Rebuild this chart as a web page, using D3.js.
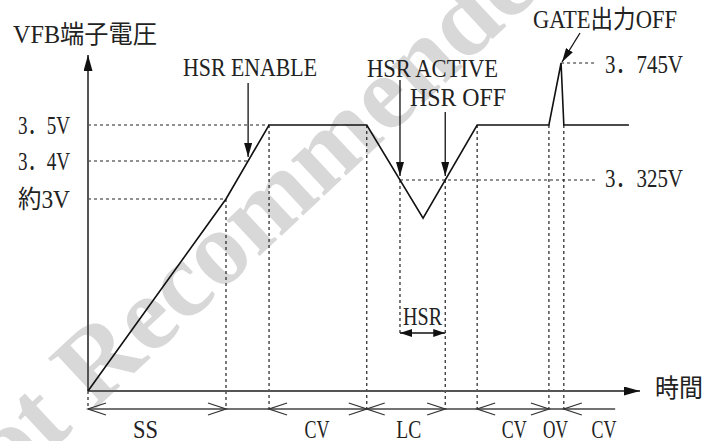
<!DOCTYPE html>
<html>
<head>
<meta charset="utf-8">
<script src="https://cdn.jsdelivr.net/npm/d3@7/dist/d3.min.js"></script>
<style>
  body { margin: 0; background: #fff; }
  text { font-family: "Liberation Serif", "Noto Sans CJK JP", serif; font-size: 25px; fill: #222; }
</style>
</head>
<body>
<div id="chart"></div>
<script>
// voltage levels marked on the vertical axis
const levelValues = [3.0, 3.4, 3.5];
const levelLabels = ["約3V", "3．4V", "3．5V"];
const hsrLevel = 3.325;
const gateLevel = 3.745;

// VFB waveform (time in arbitrary units, volts)
const waveT = [0, 25, 32.8, 50.5, 60.7, 70.5, 83.5, 85.7, 86.2, 98];
const waveV = [0, 3.0, 3.5, 3.5, 2.7, 3.5, 3.5, 3.745, 3.5, 3.5];

// operating phases along the time axis
const phaseNames = ["SS", "CV", "LC", "CV", "OV", "CV"];
const phaseStart = [0, 32.8, 50.5, 70.5, 83.5, 86.2];
const phaseEnd = [25, 50.5, 64.7, 83.5, 86.2, 95.5];
const phaseLabelT = [10.4, 41.5, 58.1, 77.2, 84.7, 93.5];
const phaseOpenEnd = [false, false, false, false, true, true];
const phaseOpenStart = [false, false, false, false, true, false];

const width = 707, height = 441;
const svg = d3.select("#chart").append("svg").attr("width", width).attr("height", height);

const x = d3.scaleLinear().domain([0, 100]).range([88, 640]);
// schematic (not to scale) voltage axis
const y = d3.scaleLinear().domain([0, 3, 3.325, 3.4, 3.5, 3.745]).range([391, 199, 180, 161, 125, 63]);
const yTop = 55, rowY = 409;

const defs = svg.append("defs");
function marker(id, w, h, color) {
  defs.append("marker").attr("id", id).attr("viewBox", `0 0 ${w} ${h}`)
    .attr("refX", w).attr("refY", h / 2).attr("markerWidth", w).attr("markerHeight", h)
    .attr("markerUnits", "userSpaceOnUse").attr("orient", "auto-start-reverse")
    .append("path").attr("d", `M0,0L${w},${h / 2}L0,${h}Z`).attr("fill", color);
}
marker("axisHead", 16, 9, "#111");
marker("head", 14, 8, "#111");
marker("smallHead", 12, 8, "#111");

// watermark
svg.append("text").attr("transform", "translate(-46,541) rotate(-43)")
  .style("font-size", "106px").style("font-weight", "bold").style("fill", "#d8d8d8")
  .text("Not Recommended for New Design");

// where the waveform crosses a level (pixel x), looking from time t0 on
function crossings(v, t0) {
  const py = y(v), out = [];
  for (let i = 0; i < waveT.length - 1; i++) {
    if (waveT[i] < t0) continue;
    const y0 = y(waveV[i]), y1 = y(waveV[i + 1]);
    if ((y0 - py) * (y1 - py) < 0) {
      out.push(x(waveT[i]) + (py - y0) / (y1 - y0) * (x(waveT[i + 1]) - x(waveT[i])));
    }
  }
  return out;
}
const enableX = crossings(3.4, 0)[0];
const [hsrOnX, hsrOffX] = crossings(hsrLevel, phaseStart[2]);
const peakI = waveV.indexOf(gateLevel);

const dash = { stroke: "#222", "stroke-width": 1.2, "stroke-dasharray": "3,3" };
function line(g, x1, y1, x2, y2, style) {
  const l = g.append("line").attr("x1", x1).attr("y1", y1).attr("x2", x2).attr("y2", y2);
  Object.entries(style).forEach(([k, v]) => l.attr(k, v));
  return l;
}

const guides = svg.append("g");
// horizontal guides from the axis to the waveform
const levelX = [x(waveT[1]), enableX, x(waveT[2])];
levelValues.forEach((v, i) => line(guides, x(0), y(v), levelX[i], y(v), dash));
line(guides, hsrOnX, y(hsrLevel), 595, y(hsrLevel), dash);
line(guides, x(waveT[peakI]), y(gateLevel), 595, y(gateLevel), dash);

// vertical guides at phase changes
[0, 1, 2, 3, 5, 6, 8].forEach(i => line(guides, x(waveT[i]), y(waveV[i]), x(waveT[i]), rowY, dash));
line(guides, hsrOnX, y(hsrLevel), hsrOnX, 333, dash);
line(guides, hsrOffX, y(hsrLevel), hsrOffX, rowY, dash);

// axes
const axisStyle = { stroke: "#555", "stroke-width": 2 };
line(svg, x(0), y(0), x(0), yTop, axisStyle).attr("marker-end", "url(#axisHead)");
line(svg, x(0), y(0), x(100), y(0), axisStyle).attr("marker-end", "url(#axisHead)");

const yAxis = svg.append("g").attr("transform", `translate(${x(0)},0)`)
  .call(d3.axisLeft(y).tickValues(levelValues).tickFormat((d, i) => levelLabels[i]).tickSize(0).tickPadding(18));
yAxis.select(".domain").remove();
yAxis.selectAll("text").attr("font-family", null).attr("font-size", null).attr("dy", "0.33em")
  .attr("textLength", 52).attr("lengthAdjust", "spacingAndGlyphs");

// waveform
svg.append("path").datum(waveT.map((t, i) => [t, waveV[i]]))
  .attr("d", d3.line().x(d => x(d[0])).y(d => y(d[1])))
  .attr("fill", "none").attr("stroke", "#111").attr("stroke-width", 1.6);

// texts
function label(txt, tx, ty, w, anchor) {
  const t = svg.append("text").attr("x", tx).attr("y", ty).attr("text-anchor", anchor || "start").text(txt);
  if (w) t.attr("textLength", w).attr("lengthAdjust", "spacingAndGlyphs");
  return t;
}
label("VFB端子電圧", 13, 43, 144);
label("時間", 655, 397, 48);
label("HSR ENABLE", 183, 76, 134);
label("HSR ACTIVE", 367, 77, 131);
label("HSR OFF", 410, 106, 96);
label("GATE出力OFF", 533, 28, 144);
label("3．745V", 605, 73, 78);
label("3．325V", 605, 187, 78);
label("HSR", (hsrOnX + hsrOffX) / 2, 325, 39, "middle");

// annotation arrows
const arrow = { stroke: "#111", "stroke-width": 1.3 };
line(svg, enableX, 83, enableX, y(3.4) - 4, arrow).attr("marker-end", "url(#head)");
line(svg, hsrOnX, 80, hsrOnX, y(hsrLevel) - 4, arrow).attr("marker-end", "url(#head)");
line(svg, hsrOffX, 112, hsrOffX, y(hsrLevel) - 4, arrow).attr("marker-end", "url(#head)");
line(svg, 580, 33, x(waveT[peakI]) + 1, y(gateLevel) - 1, arrow).attr("marker-end", "url(#head)");
line(svg, hsrOnX, 333, hsrOffX, 333, { stroke: "#111", "stroke-width": 1.5 })
  .attr("marker-start", "url(#smallHead)").attr("marker-end", "url(#smallHead)");

// phase row
const row = svg.append("g");
line(row, x(0), rowY, x(phaseEnd[phaseEnd.length - 1]), rowY, { stroke: "#444", "stroke-width": 1.5 });
function chevron(px, dir) {
  row.append("path").attr("d", `M${px + dir * 18},${rowY - 6}L${px},${rowY}L${px + dir * 18},${rowY + 6}`)
    .attr("fill", "none").attr("stroke", "#333").attr("stroke-width", 1.3);
}
phaseNames.forEach((name, i) => {
  if (!phaseOpenStart[i]) chevron(x(phaseStart[i]), 1);
  if (!phaseOpenEnd[i]) chevron(x(phaseEnd[i]), -1);
  label(name, x(phaseLabelT[i]), 438, 25, "middle");
});
</script>
</body>
</html>
